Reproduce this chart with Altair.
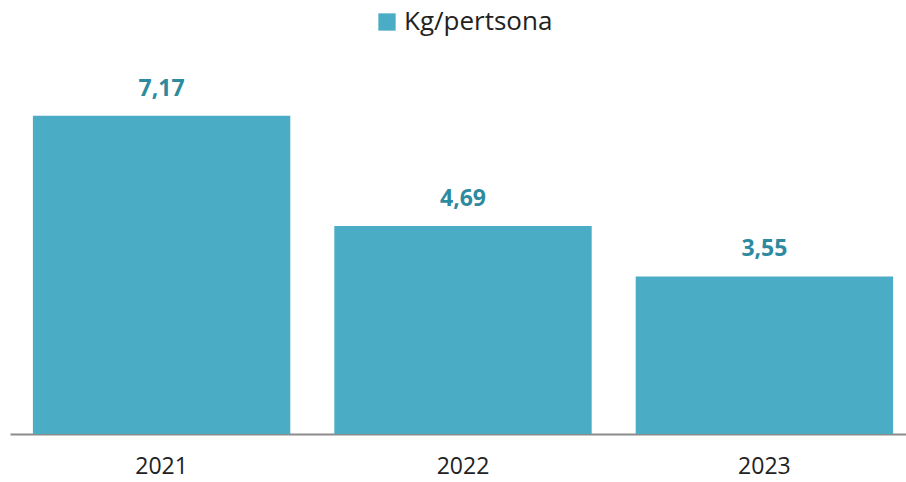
import altair as alt
import pandas as pd

years = ["2021", "2022", "2023"]
values = [7.17, 4.69, 3.55]
series_name = "Kg/pertsona"

df = pd.DataFrame({
    "year": years,
    "value": values,
    "label": [f"{v:.2f}".replace(".", ",") for v in values],
    "series": [series_name] * len(years),
})

FONT = "Open Sans"
BAR = "#4BACC6"

base = alt.Chart(df)

bars = base.mark_bar(color=BAR).encode(
    x=alt.X("year:N", sort=years,
            scale=alt.Scale(range=[0, 906], paddingInner=0.146, paddingOuter=0.076),
            axis=alt.Axis(title=None, labelAngle=0, labelFontSize=23, labelColor="#222222",
                          labelFont=FONT, ticks=False, domainColor="#8c8c8c", domainWidth=2,
                          labelPadding=21, grid=False)),
    y=alt.Y("value:Q", scale=alt.Scale(domain=[0, 8]), axis=None),
    color=alt.Color("series:N", scale=alt.Scale(range=[BAR]),
                    legend=alt.Legend(title=None, orient="none", legendX=364, legendY=-70,
                                      symbolType="square", symbolSize=300, symbolStrokeWidth=0,
                                      labelFontSize=26, labelFont=FONT, labelColor="#222222",
                                      labelOffset=4)),
)

labels = base.mark_text(fontSize=23, fontWeight="bold", color="#2E8A9E", font=FONT,
                        baseline="bottom", dy=-15).encode(
    x=alt.X("year:N", sort=years),
    y="value:Q",
    text="label:N",
)

chart = (bars + labels).properties(
    width=896, height=355,
    autosize=alt.AutoSizeParams(type="none"),
    padding={"left": 10, "right": 0, "top": 79, "bottom": 48},
).configure_view(stroke=None)

chart.save("out.html", embed_options={"renderer": "svg", "actions": False})
